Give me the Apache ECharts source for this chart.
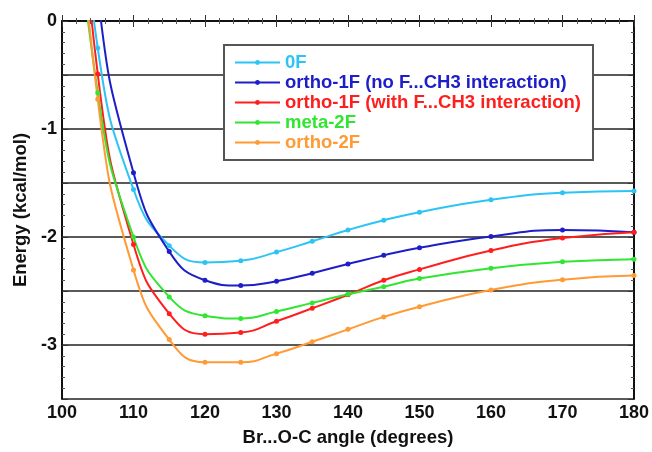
<!DOCTYPE html>
<html>
<head>
<meta charset="utf-8">
<script src="https://cdn.jsdelivr.net/npm/echarts@6/dist/echarts.min.js"></script>
<style>
  html, body { margin: 0; padding: 0; background: #fff; }
  #chart { width: 652px; height: 452px; }
</style>
</head>
<body>
<div id="chart"></div>
<script>
// Br...O-C angle scan (degrees)
const angles = [100, 105, 110, 115, 120, 125, 130, 135, 140, 145, 150, 160, 170, 180];

// Relative energies (kcal/mol)
const e0F          = [3.0, -0.25, -1.56, -2.08, -2.235, -2.22, -2.14, -2.04, -1.935, -1.845, -1.77, -1.655, -1.59, -1.575];
const eOrtho1FNo   = [4.3, 0.25, -1.405, -2.135, -2.40, -2.45, -2.41, -2.335, -2.25, -2.17, -2.10, -1.995, -1.935, -1.955];
const eOrtho1FWith = [3.4, -0.49, -2.07, -2.71, -2.90, -2.885, -2.78, -2.66, -2.535, -2.40, -2.30, -2.125, -2.01, -1.955];
const eMeta2F      = [2.5, -0.665, -2.0, -2.555, -2.73, -2.755, -2.69, -2.61, -2.53, -2.46, -2.385, -2.29, -2.23, -2.205];
const eOrtho2F     = [3.1, -0.725, -2.305, -2.95, -3.16, -3.16, -3.08, -2.97, -2.855, -2.74, -2.645, -2.49, -2.395, -2.357];

const seriesNames = [
  '0F',
  'ortho-1F (no F...CH3 interaction)',
  'ortho-1F (with F...CH3 interaction)',
  'meta-2F',
  'ortho-2F'
];
const seriesValues = [e0F, eOrtho1FNo, eOrtho1FWith, eMeta2F, eOrtho2F];
const seriesColors = ['#2cc4f4', '#1e1ec8', '#ff1e1e', '#30e630', '#ff9a35'];

const yTickLabels = { '0': '0', '-1': '-1', '-2': '-2', '-3': '-3' };

const FONT = '"Liberation Sans", Arial, Helvetica, sans-serif';

const chart = echarts.init(document.getElementById('chart'), null, { renderer: 'canvas' });

const tickCommon = {
  axisLine: { show: true, lineStyle: { color: '#111', width: 2 } },
  axisTick: { show: true, inside: true, length: 6, lineStyle: { color: '#333', width: 1 } },
  minorTick: { show: true, splitNumber: 5, length: 3, lineStyle: { color: '#555', width: 1 } },
  splitLine: { show: false }
};

const option = {
  backgroundColor: '#fff',
  animation: false,
  grid: { left: 62, right: 16, top: 21, bottom: 49, containLabel: false },
  legend: {
    orient: 'vertical',
    left: 224,
    top: 45,
    padding: [8, 12, 8, 10],
    itemGap: 1,
    itemWidth: 45,
    itemHeight: 6,
    backgroundColor: '#fff',
    borderColor: '#555',
    borderWidth: 2,
    textStyle: { fontFamily: FONT, fontWeight: 'bold', fontSize: 18.5, lineHeight: 19 },
    data: seriesNames.map((n, i) => ({ name: n, textStyle: { color: seriesColors[i] } }))
  },
  xAxis: [
    Object.assign({
      type: 'value', min: 100, max: 180, interval: 10, position: 'bottom',
      name: 'Br...O-C angle (degrees)', nameLocation: 'middle', nameGap: 29,
      nameTextStyle: { fontFamily: FONT, fontWeight: 'bold', fontSize: 18.5, color: '#111' },
      axisLabel: { fontFamily: FONT, fontWeight: 'bold', fontSize: 18, color: '#111', margin: 5 }
    }, tickCommon),
    Object.assign({
      type: 'value', min: 100, max: 180, interval: 10, position: 'top',
      axisLabel: { show: false }
    }, tickCommon)
  ],
  yAxis: [
    Object.assign({}, tickCommon, {
      type: 'value', min: -3.5, max: 0, interval: 0.5, position: 'left',
      name: 'Energy (kcal/mol)', nameLocation: 'middle', nameGap: 32,
      nameTextStyle: { fontFamily: FONT, fontWeight: 'bold', fontSize: 18.5, color: '#111' },
      axisLabel: {
        fontFamily: FONT, fontWeight: 'bold', fontSize: 18, color: '#111', margin: 5,
        padding: [6, 0, 0, 0],
        formatter: v => (yTickLabels[String(Math.round(v * 10) / 10)] || '')
      },
      splitLine: { show: true, lineStyle: { color: '#222', width: 1.5 } }
    }),
    Object.assign({
      type: 'value', min: -3.5, max: 0, interval: 0.5, position: 'right',
      axisLabel: { show: false }
    }, tickCommon)
  ],
  series: seriesNames.map((n, i) => ({
    name: n,
    type: 'line',
    xAxisIndex: 0,
    yAxisIndex: 0,
    smooth: 0.5,
    clip: true,
    symbol: 'circle',
    symbolSize: 5,
    showSymbol: true,
    lineStyle: { color: seriesColors[i], width: 2 },
    itemStyle: { color: seriesColors[i] },
    data: angles.map((a, k) => [a, seriesValues[i][k]])
  }))
};

chart.setOption(option);
</script>
</body>
</html>
